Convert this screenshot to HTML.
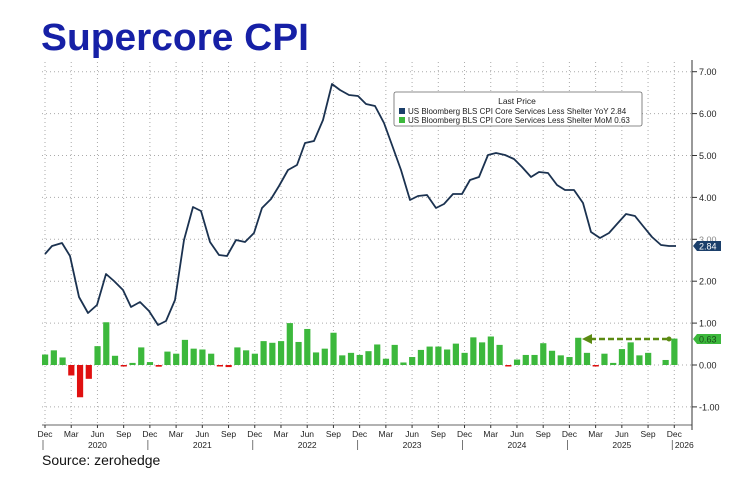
<!DOCTYPE html><html><head><meta charset="utf-8"><style>
body{margin:0;background:#fff;width:756px;height:475px;overflow:hidden;font-family:"Liberation Sans",sans-serif}
</style></head><body>
<svg width="756" height="475" xmlns="http://www.w3.org/2000/svg" id="s" font-family="Liberation Sans, sans-serif">
<text x="41" y="50" font-size="38" font-weight="bold" fill="#1620a6" textLength="268" lengthAdjust="spacingAndGlyphs">Supercore CPI</text>
<text x="42" y="465" font-size="14" fill="#111">Source: zerohedge</text>
<g id="g"></g>
</svg>
<script>
const NS="http://www.w3.org/2000/svg",g=document.getElementById('g');
function el(t,a,txt){const e=document.createElementNS(NS,t);for(const k in a)e.setAttribute(k,a[k]);if(txt!=null)e.textContent=txt;g.appendChild(e);return e}
const Y=v=>365-41.9*v, X=k=>45+8.74*k;
for(let v=-1;v<=7;v++)el('line',{x1:42,x2:692,y1:Y(v),y2:Y(v),stroke:'#aaa','stroke-dasharray':'1,3','stroke-width':1});
for(let k=0;k<=72;k+=3)el('line',{x1:X(k),x2:X(k),y1:62,y2:425,stroke:'#aaa','stroke-dasharray':'1,3','stroke-width':1});
el('line',{x1:692,x2:692,y1:60,y2:430,stroke:'#333','stroke-width':1});
el('line',{x1:42,x2:692,y1:425,y2:425,stroke:'#333','stroke-width':0.8});
for(let v=-1;v<=7;v++){el('line',{x1:692,x2:697,y1:Y(v),y2:Y(v),stroke:'#333'});
 if(v!==3)el('text',{x:699,y:Y(v)+3.5,'font-size':9,fill:'#222'},v.toFixed(2));}
el('text',{x:699,y:Y(3)+3.5,'font-size':9,fill:'#888'},'3.00');
const mn=['Dec','Mar','Jun','Sep'];
for(let k=0;k<=72;k+=3){el('text',{x:X(k),y:437,'font-size':8.5,fill:'#222','text-anchor':'middle'},mn[(k/3)%4]);
 el('line',{x1:X(k),x2:X(k),y1:425,y2:428,stroke:'#333'});}
for(let yr=0;yr<7;yr++){const k=12*yr;el('line',{x1:X(k)-2,x2:X(k)-2,y1:440,y2:450,stroke:'#555','stroke-width':0.8});
 if(yr<6)el('text',{x:X(k+6),y:448,'font-size':8.5,fill:'#222','text-anchor':'middle'},2020+yr);}
el('text',{x:X(72)+10,y:448,'font-size':8.5,fill:'#222','text-anchor':'middle'},'2026');
const b=[.25,.35,.18,-.25,-.77,-.33,.45,1.02,.22,-.03,.05,.42,.07,-.04,.32,.27,.6,.39,.37,.27,-.02,-.05,.42,.35,.27,.57,.53,.57,1.0,.55,.86,.3,.39,.77,.23,.29,.24,.33,
.49,.15,.48,.06,.19,.36,.44,.44,.37,.51,.29,.66,.54,.68,.48,-.02,.13,.24,.24,.52,.34,.23,.19,.65,.29,-.01,.27,.05,.38,.54,.23,.29,null,.12,.63];
b.forEach((v,k)=>{if(v==null)return;const x=X(k)-3;const y=v>=0?Y(v):Y(0);const h=Math.max(1.5,Math.abs(v)*41.9);
 el('rect',{x:x,y:y,width:6.2,height:h,fill:v>=0?'#3cb83c':'#e01010'});});
const pts=[[45,254],[52,246],[62,243],[70,256],[79,297],[88,313],[97,305],[106,274],[114,281],[123,290],[131,307],[140,302],[149,311],[158,325],[166,321],[175,300],[184,240],[193,207],[201,211],[210,242],[219,255],[227,256],[236,240],[245,242],[254,233],[262,208],[271,199],[279,186],[288,170],[297,165],[305,143],[314,141],[323,120],[332,84],[340,90],[349,95],[358,96],[366,104],[375,106],[384,123],[392,145],[401,170],[410,200],[418,196],[427,195],[436,208],[444,204],[453,194],[462,194],[470,180],[479,177],[488,155],[496,153],[505,155],[514,159],[522,167],[531,177],[539,172],[548,173],[557,185],[565,190],[574,190],[583,203],[591,232],[600,238],[609,233],[617,224],[626,214],[635,216],[643,226],[652,237],[661,245],[669,246],[676,246]];
el('polyline',{points:pts.map(p=>p.join(',')).join(' '),fill:'none',stroke:'#1b3250','stroke-width':1.8,'stroke-linejoin':'round'});
el('line',{x1:590,x2:668,y1:339,y2:339,stroke:'#5b8a12','stroke-width':2.5,'stroke-dasharray':'6,3'});
el('polygon',{points:'582,339 592,334 592,344',fill:'#5b8a12'});
el('circle',{cx:669,cy:339,r:2.5,fill:'#5b8a12'});
el('polygon',{points:'693,246 697,241 721,241 721,251 697,251',fill:'#1b3f6a'});
el('text',{x:699,y:249.5,'font-size':9,fill:'#fff'},'2.84');
el('polygon',{points:'693,339 697,334 721,334 721,344 697,344',fill:'#3cb83c'});
el('text',{x:699,y:342.5,'font-size':9,fill:'#1a4a1a'},'0.63');
el('rect',{x:394,y:92,width:248,height:34,rx:2,fill:'#fff',stroke:'#666','stroke-width':0.8});
el('text',{x:517,y:104,'font-size':8.5,fill:'#222','text-anchor':'middle'},'Last Price');
el('rect',{x:399,y:108,width:6,height:6,fill:'#1b3f6a'});
el('rect',{x:399,y:117,width:6,height:6,fill:'#3cb83c'});
el('text',{x:408,y:114,'font-size':8,fill:'#222'},'US Bloomberg BLS CPI Core Services Less Shelter YoY  2.84');
el('text',{x:408,y:123,'font-size':8,fill:'#222'},'US Bloomberg BLS CPI Core Services Less Shelter MoM  0.63');
</script>
</body></html>
